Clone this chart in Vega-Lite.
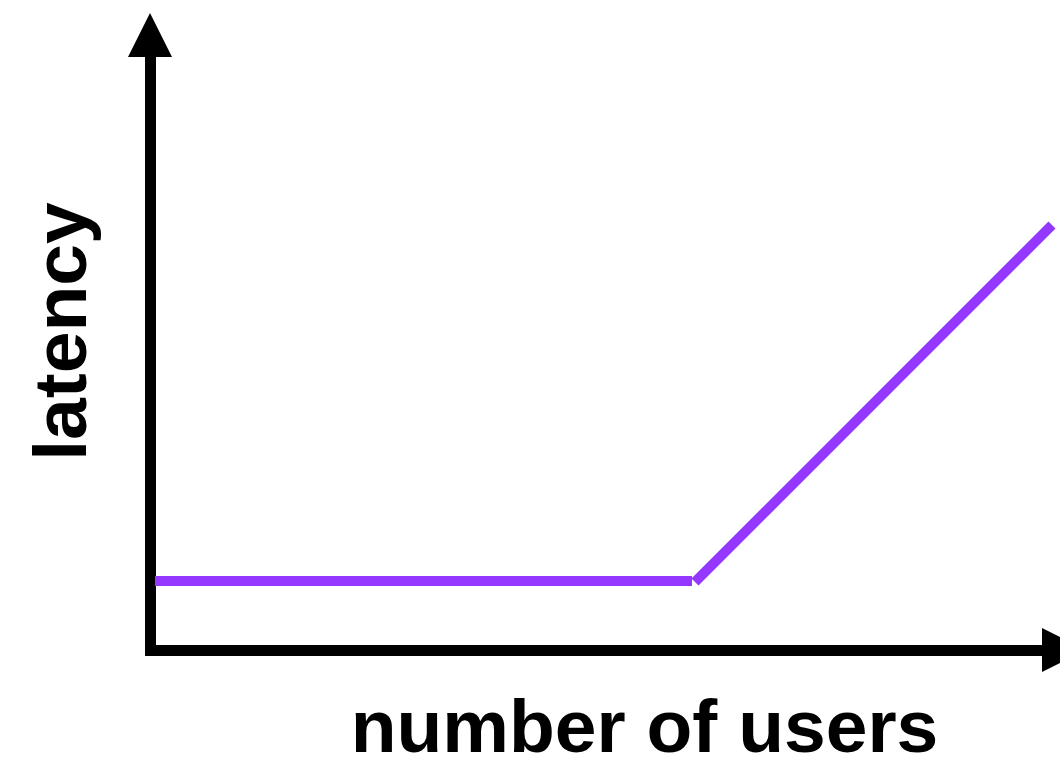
{
  "$schema": "https://vega.github.io/schema/vega-lite/v6.json",
  "width": 910,
  "height": 615,
  "autosize": "none",
  "padding": {"left": 150, "top": 35, "right": 0, "bottom": 108},
  "background": "white",
  "config": {"view": {"stroke": null}},
  "encoding": {
    "x": {
      "field": "users",
      "type": "quantitative",
      "scale": {"domain": [0, 910], "nice": false, "zero": false},
      "axis": {
        "title": "number of users",
        "labels": false,
        "ticks": false,
        "grid": false,
        "domainColor": "black",
        "domainWidth": 11,
        "domainCap": "square",
        "titleFont": "Liberation Sans",
        "titleFontSize": 75,
        "titleFontWeight": "bold",
        "titleColor": "black",
        "titleBaseline": "alphabetic",
        "titleAlign": "center",
        "titleX": 494,
        "titleY": 101
      }
    },
    "y": {
      "field": "latency",
      "type": "quantitative",
      "scale": {"domain": [0, 615], "nice": false, "zero": false},
      "axis": {
        "title": "latency",
        "labels": false,
        "ticks": false,
        "grid": false,
        "domainColor": "black",
        "domainWidth": 11,
        "domainCap": "square",
        "titleFont": "Liberation Sans",
        "titleFontSize": 75,
        "titleFontWeight": "bold",
        "titleColor": "black",
        "titleBaseline": "alphabetic",
        "titleAlign": "center",
        "titleAngle": 270,
        "titleX": -65,
        "titleY": 296
      }
    }
  },
  "layer": [
    {
      "data": {
        "values": [
          {"seg": "flat", "users": 5, "latency": 69},
          {"seg": "flat", "users": 542, "latency": 69},
          {"seg": "rise", "users": 545, "latency": 68},
          {"seg": "rise", "users": 902, "latency": 425}
        ]
      },
      "mark": {"type": "line", "color": "#9437FF", "strokeWidth": 10, "strokeCap": "butt"},
      "encoding": {"detail": {"field": "seg"}}
    },
    {
      "data": {"values": [{"users": 0, "latency": 615}]},
      "mark": {"type": "point", "shape": "M0,-1L1,1L-1,1Z", "size": 1936, "filled": true, "color": "black", "opacity": 1, "strokeWidth": 0}
    },
    {
      "data": {"values": [{"users": 914, "latency": 0}]},
      "mark": {"type": "point", "shape": "M1,0L-1,1L-1,-1Z", "size": 1936, "filled": true, "color": "black", "opacity": 1, "strokeWidth": 0}
    }
  ]
}
